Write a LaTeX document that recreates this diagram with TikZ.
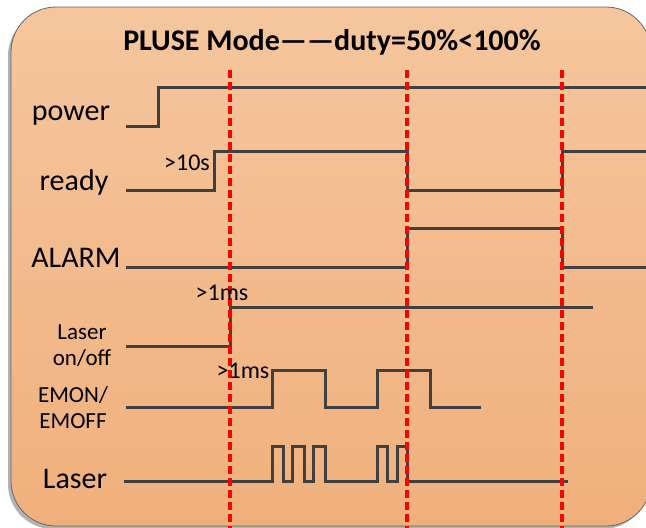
\documentclass[tikz,border=0pt]{standalone}
\usepackage{fontspec}
\setmainfont{Carlito}
\definecolor{sigline}{RGB}{64,64,64}
\definecolor{boxtop}{RGB}{245,198,158}
\definecolor{boxbottom}{RGB}{240,176,124}
\tikzset{
  signal/.style={draw=sigline, line width=3pt, line join=miter},
  marker/.style={draw=red, line width=3.2pt, dash pattern=on 8pt off 4pt},
  siglabel/.style={anchor=base, inner sep=0pt, font=\fontsize{30}{32}\selectfont},
  smalllabel/.style={anchor=base, inner sep=0pt, align=center, font=\fontsize{23}{25.5}\selectfont},
  delay/.style={anchor=base, inner sep=0pt, font=\fontsize{24}{26}\selectfont},
}
\begin{document}
\begin{tikzpicture}[x=1pt, y=-1pt]
    \useasboundingbox (0,0) rectangle (646,528);
    % panel
    \fill[gray!60, rounded corners=45pt] (8,11) rectangle (648,529);
    \shade[top color=boxtop, bottom color=boxbottom, draw=sigline!80, line width=0.8pt,
           rounded corners=45pt] (11,7) rectangle (651,526);
    \node[anchor=base, inner sep=0pt, font=\bfseries\fontsize{30}{32}\selectfont] (title)
        at (332,50) {PLUSE Mode——duty=50\%<100\%};

    % labels
    \node[siglabel] (power) at (71,120) {power};
    \node[siglabel] (ready) at (74,190) {ready};
    \node[siglabel] (alarm) at (76,267) {ALARM};
    \node[smalllabel] (onoff) at (82,365) {Laser\\on/off};
    \node[smalllabel] (emon) at (73,428) {EMON/\\EMOFF};
    \node[siglabel] (laser) at (75,488) {Laser};

    % signals
    \draw[signal] (126,126) -- (158,126) -- (158,87) -- (646,87);
    \draw[signal] (126,190) -- (214,190) -- (214,151) -- (407,151) -- (407,190)
        -- (562,190) -- (562,151) -- (646,151);
    \draw[signal] (126,267) -- (407,267) -- (407,228) -- (562,228) -- (562,267) -- (646,267);
    \draw[signal] (126,346) -- (230,346) -- (230,307) -- (593,307);
    \draw[signal] (126,407) -- (272,407) -- (272,370) -- (325,370) -- (325,407)
        -- (377,407) -- (377,370) -- (430,370) -- (430,407) -- (481,407);
    \draw[signal] (124,481) -- (272,481) -- (272,446) -- (283,446) -- (283,481)
        -- (292,481) -- (292,446) -- (304,446) -- (304,481) -- (313,481) -- (313,446)
        -- (325,446) -- (325,481) -- (377,481) -- (377,446) -- (387,446) -- (387,481)
        -- (397,481) -- (397,446) -- (407,446) -- (407,481) -- (568,481);

    % timing markers
    \foreach \t in {230,407,562}
        \draw[marker] (\t,70) -- (\t,528);

    \node[delay] (tready) at (187,170) {>10s};
    \node[delay] (tonoff) at (222,300) {>1ms};
    \node[delay] (temon) at (243,378) {>1ms};
\end{tikzpicture}
\end{document}
